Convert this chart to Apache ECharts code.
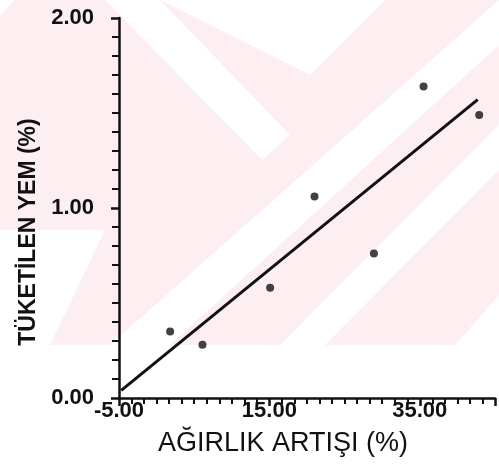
<!DOCTYPE html>
<html>
<head>
<meta charset="utf-8">
<script src="https://cdn.jsdelivr.net/npm/echarts@6/dist/echarts.min.js"></script>
<style>
  html, body { margin: 0; padding: 0; background: #fff; }
  #chart { width: 499px; height: 467px; }
</style>
</head>
<body>
<div id="chart"></div>
<script>
// measured points: weight gain (%) vs feed consumed (%)
var gainX = [1.8, 6.1, 15.1, 21.0, 28.9, 35.5, 42.9];
var feedY = [0.35, 0.28, 0.58, 1.06, 0.76, 1.64, 1.49];
// fitted line end points
var fitX = [-4.7, 42.7];
var fitY = [0.04, 1.57];
var xTicks = [-5, 15, 35];
var yTicks = [0, 1, 2];

var pink = '#fdeef1';

function poly(pts) {
  return { type: 'polygon', z: -10, silent: true, shape: { points: pts }, style: { fill: '#fff' } };
}

var chartDom = document.getElementById('chart');
var myChart = echarts.init(chartDom);

var option = {
  animation: false,
  textStyle: { fontFamily: 'Liberation Sans' },
  graphic: [
    // faded watermark behind the plot
    { type: 'rect', z: -11, silent: true, shape: { x: 0, y: 0, width: 499, height: 345 }, style: { fill: pink } },
    poly([[0, 0], [14, 0], [0, 16]]),
    poly([[105, 0], [160, 0], [290, 135], [262, 160]]),
    poly([[160, 0], [385, 0], [310, 75]]),
    poly([[499, 0], [499, 45], [170, 345], [110, 345]]),
    poly([[499, 125], [499, 170], [325, 345], [280, 345]]),
    poly([[499, 295], [499, 345], [455, 345]]),
    poly([[0, 230], [105, 230], [50, 345], [0, 345]]),
    {
      type: 'text', silent: true,
      x: 29, y: 232, rotation: Math.PI / 2,
      style: { text: 'TÜKETİLEN YEM (%)', font: 'bold 23px "Liberation Sans"', fill: '#111', textAlign: 'center', textVerticalAlign: 'middle' }
    },
    {
      type: 'text', silent: true,
      x: 283, y: 444,
      style: { text: 'AĞIRLIK ARTIŞI (%)', font: '27px "Liberation Sans"', fill: '#111', textAlign: 'center', textVerticalAlign: 'middle' }
    }
  ],
  grid: { left: 119, right: 4, top: 18, bottom: 69 },
  xAxis: {
    type: 'value',
    min: -5,
    max: 45,
    interval: 20,
    splitLine: { show: false },
    axisLine: { onZero: false, lineStyle: { color: '#111', width: 2.5 } },
    axisTick: { length: 8, lineStyle: { color: '#111', width: 2.5 } },
    minorTick: { show: true, splitNumber: 12, length: 6, lineStyle: { color: '#111', width: 2 } },
    axisLabel: {
      color: '#111', fontSize: 22, fontWeight: 'bold', margin: 2,
      showMaxLabel: false,
      formatter: function (v) { return xTicks.indexOf(v) >= 0 ? v.toFixed(2) : ''; }
    }
  },
  yAxis: {
    type: 'value',
    min: 0,
    max: 2,
    interval: 1,
    splitLine: { show: false },
    axisLine: { onZero: false, lineStyle: { color: '#111', width: 2.5 } },
    axisTick: { length: 8, lineStyle: { color: '#111', width: 2.5 } },
    minorTick: { show: true, splitNumber: 10, length: 7, lineStyle: { color: '#111', width: 2 } },
    axisLabel: {
      color: '#111', fontSize: 22, fontWeight: 'bold', margin: 25,
      formatter: function (v) { return yTicks.indexOf(v) >= 0 ? v.toFixed(2) : ''; }
    }
  },
  series: [
    {
      type: 'line',
      data: fitX.map(function (x, i) { return [x, fitY[i]]; }),
      showSymbol: false,
      lineStyle: { color: '#111', width: 3 },
      z: 3
    },
    {
      type: 'scatter',
      data: gainX.map(function (x, i) { return [x, feedY[i]]; }),
      symbolSize: 8,
      itemStyle: { color: '#111' },
      z: 4
    }
  ]
};

option && myChart.setOption(option);
</script>
</body>
</html>
